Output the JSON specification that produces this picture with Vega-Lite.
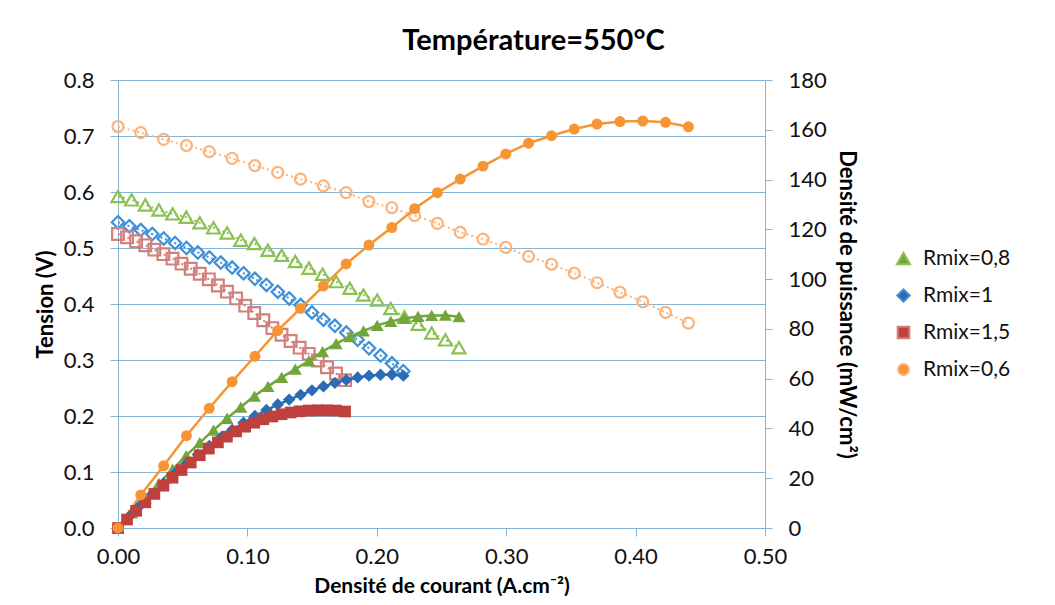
{
  "$schema": "https://vega.github.io/schema/vega-lite/v6.json",
  "width": 647,
  "height": 448,
  "autosize": "none",
  "padding": {"left": 118, "top": 80, "right": 290, "bottom": 77},
  "background": "white",
  "config": {"view": {"stroke": null}, "font": "Lato",
    "legend": {"title": null, "orient": "none", "legendX": 775, "legendY": 168, "labelFontSize": 21, "labelFont": "Lato", "labelColor": "#111", "rowPadding": 15, "labelOffset": 9, "symbolStrokeWidth": 2, "symbolOpacity": 1}},
  "title": {"text": "Température=550°C", "fontSize": 29, "fontWeight": "bold", "font": "Lato", "color": "#000", "anchor": "middle", "dx": 92, "offset": 13},
  "data": {"values": [
    {"s":"Rmix=0,8","j":0,"V":0.592,"P":0},
    {"s":"Rmix=0,8","j":0.0105,"V":0.586,"P":6.1},
    {"s":"Rmix=0,8","j":0.0211,"V":0.577,"P":12.1},
    {"s":"Rmix=0,8","j":0.0316,"V":0.568,"P":17.9},
    {"s":"Rmix=0,8","j":0.0422,"V":0.561,"P":23.6},
    {"s":"Rmix=0,8","j":0.0527,"V":0.555,"P":29.1},
    {"s":"Rmix=0,8","j":0.0632,"V":0.545,"P":34.3},
    {"s":"Rmix=0,8","j":0.0738,"V":0.536,"P":39.3},
    {"s":"Rmix=0,8","j":0.0843,"V":0.527,"P":44.1},
    {"s":"Rmix=0,8","j":0.0949,"V":0.514,"P":48.6},
    {"s":"Rmix=0,8","j":0.1054,"V":0.508,"P":53.0},
    {"s":"Rmix=0,8","j":0.1159,"V":0.496,"P":56.9},
    {"s":"Rmix=0,8","j":0.1265,"V":0.487,"P":60.5},
    {"s":"Rmix=0,8","j":0.1370,"V":0.476,"P":63.8},
    {"s":"Rmix=0,8","j":0.1476,"V":0.464,"P":67.2},
    {"s":"Rmix=0,8","j":0.1581,"V":0.453,"P":70.9},
    {"s":"Rmix=0,8","j":0.1686,"V":0.440,"P":74.1},
    {"s":"Rmix=0,8","j":0.1792,"V":0.428,"P":76.9},
    {"s":"Rmix=0,8","j":0.1897,"V":0.416,"P":79.2},
    {"s":"Rmix=0,8","j":0.2003,"V":0.407,"P":81.4},
    {"s":"Rmix=0,8","j":0.2108,"V":0.392,"P":83.0},
    {"s":"Rmix=0,8","j":0.2213,"V":0.377,"P":84.2},
    {"s":"Rmix=0,8","j":0.2319,"V":0.364,"P":85.0},
    {"s":"Rmix=0,8","j":0.2424,"V":0.348,"P":85.4},
    {"s":"Rmix=0,8","j":0.2530,"V":0.336,"P":85.5},
    {"s":"Rmix=0,8","j":0.2635,"V":0.322,"P":84.9},
    {"s":"Rmix=1","j":0,"V":0.546,"P":0},
    {"s":"Rmix=1","j":0.0088,"V":0.539,"P":4.7},
    {"s":"Rmix=1","j":0.0176,"V":0.532,"P":9.3},
    {"s":"Rmix=1","j":0.0265,"V":0.525,"P":13.7},
    {"s":"Rmix=1","j":0.0353,"V":0.517,"P":17.9},
    {"s":"Rmix=1","j":0.0441,"V":0.509,"P":21.9},
    {"s":"Rmix=1","j":0.0529,"V":0.500,"P":25.8},
    {"s":"Rmix=1","j":0.0617,"V":0.492,"P":29.5},
    {"s":"Rmix=1","j":0.0706,"V":0.483,"P":33.0},
    {"s":"Rmix=1","j":0.0794,"V":0.474,"P":36.3},
    {"s":"Rmix=1","j":0.0882,"V":0.465,"P":39.4},
    {"s":"Rmix=1","j":0.0970,"V":0.455,"P":42.3},
    {"s":"Rmix=1","j":0.1058,"V":0.445,"P":45.0},
    {"s":"Rmix=1","j":0.1147,"V":0.434,"P":47.4},
    {"s":"Rmix=1","j":0.1235,"V":0.422,"P":49.6},
    {"s":"Rmix=1","j":0.1323,"V":0.410,"P":51.6},
    {"s":"Rmix=1","j":0.1411,"V":0.398,"P":53.5},
    {"s":"Rmix=1","j":0.1499,"V":0.385,"P":55.3},
    {"s":"Rmix=1","j":0.1588,"V":0.372,"P":56.9},
    {"s":"Rmix=1","j":0.1676,"V":0.361,"P":58.3},
    {"s":"Rmix=1","j":0.1764,"V":0.349,"P":59.5},
    {"s":"Rmix=1","j":0.1852,"V":0.336,"P":60.5},
    {"s":"Rmix=1","j":0.1940,"V":0.321,"P":61.2},
    {"s":"Rmix=1","j":0.2029,"V":0.308,"P":61.6},
    {"s":"Rmix=1","j":0.2117,"V":0.294,"P":61.7},
    {"s":"Rmix=1","j":0.2205,"V":0.280,"P":61.2},
    {"s":"Rmix=1,5","j":0,"V":0.525,"P":0},
    {"s":"Rmix=1,5","j":0.0070,"V":0.519,"P":3.4},
    {"s":"Rmix=1,5","j":0.0140,"V":0.512,"P":6.9},
    {"s":"Rmix=1,5","j":0.0211,"V":0.505,"P":10.3},
    {"s":"Rmix=1,5","j":0.0281,"V":0.497,"P":13.7},
    {"s":"Rmix=1,5","j":0.0351,"V":0.489,"P":17.0},
    {"s":"Rmix=1,5","j":0.0421,"V":0.481,"P":20.2},
    {"s":"Rmix=1,5","j":0.0491,"V":0.472,"P":23.3},
    {"s":"Rmix=1,5","j":0.0562,"V":0.463,"P":26.3},
    {"s":"Rmix=1,5","j":0.0632,"V":0.454,"P":29.2},
    {"s":"Rmix=1,5","j":0.0702,"V":0.444,"P":31.9},
    {"s":"Rmix=1,5","j":0.0772,"V":0.433,"P":34.4},
    {"s":"Rmix=1,5","j":0.0842,"V":0.422,"P":36.7},
    {"s":"Rmix=1,5","j":0.0913,"V":0.410,"P":38.8},
    {"s":"Rmix=1,5","j":0.0983,"V":0.397,"P":40.7},
    {"s":"Rmix=1,5","j":0.1053,"V":0.384,"P":42.3},
    {"s":"Rmix=1,5","j":0.1123,"V":0.371,"P":43.7},
    {"s":"Rmix=1,5","j":0.1193,"V":0.357,"P":44.8},
    {"s":"Rmix=1,5","j":0.1264,"V":0.345,"P":45.7},
    {"s":"Rmix=1,5","j":0.1334,"V":0.334,"P":46.4},
    {"s":"Rmix=1,5","j":0.1404,"V":0.322,"P":46.9},
    {"s":"Rmix=1,5","j":0.1474,"V":0.311,"P":47.2},
    {"s":"Rmix=1,5","j":0.1544,"V":0.299,"P":47.3},
    {"s":"Rmix=1,5","j":0.1615,"V":0.287,"P":47.3},
    {"s":"Rmix=1,5","j":0.1685,"V":0.276,"P":47.2},
    {"s":"Rmix=1,5","j":0.1755,"V":0.264,"P":46.8},
    {"s":"Rmix=0,6","j":0,"V":0.717,"P":0},
    {"s":"Rmix=0,6","j":0.0176,"V":0.706,"P":13.3},
    {"s":"Rmix=0,6","j":0.0353,"V":0.694,"P":25.0},
    {"s":"Rmix=0,6","j":0.0529,"V":0.683,"P":37.1},
    {"s":"Rmix=0,6","j":0.0705,"V":0.672,"P":48.1},
    {"s":"Rmix=0,6","j":0.0882,"V":0.660,"P":58.8},
    {"s":"Rmix=0,6","j":0.1058,"V":0.647,"P":69.0},
    {"s":"Rmix=0,6","j":0.1234,"V":0.635,"P":79.3},
    {"s":"Rmix=0,6","j":0.1410,"V":0.623,"P":88.2},
    {"s":"Rmix=0,6","j":0.1587,"V":0.611,"P":97.2},
    {"s":"Rmix=0,6","j":0.1763,"V":0.599,"P":106.1},
    {"s":"Rmix=0,6","j":0.1939,"V":0.583,"P":113.7},
    {"s":"Rmix=0,6","j":0.2116,"V":0.572,"P":120.7},
    {"s":"Rmix=0,6","j":0.2292,"V":0.558,"P":128.3},
    {"s":"Rmix=0,6","j":0.2468,"V":0.544,"P":134.7},
    {"s":"Rmix=0,6","j":0.2645,"V":0.528,"P":140.2},
    {"s":"Rmix=0,6","j":0.2821,"V":0.516,"P":145.4},
    {"s":"Rmix=0,6","j":0.2997,"V":0.501,"P":150.3},
    {"s":"Rmix=0,6","j":0.3173,"V":0.485,"P":154.6},
    {"s":"Rmix=0,6","j":0.3350,"V":0.471,"P":157.6},
    {"s":"Rmix=0,6","j":0.3526,"V":0.455,"P":160.3},
    {"s":"Rmix=0,6","j":0.3702,"V":0.438,"P":162.3},
    {"s":"Rmix=0,6","j":0.3879,"V":0.421,"P":163.3},
    {"s":"Rmix=0,6","j":0.4055,"V":0.404,"P":163.5},
    {"s":"Rmix=0,6","j":0.4231,"V":0.385,"P":163.0},
    {"s":"Rmix=0,6","j":0.4408,"V":0.366,"P":161.2}
  ]},
  "encoding": {
    "x": {"field": "j", "type": "quantitative",
      "scale": {"domain": [0, 0.5], "nice": false},
      "axis": {"title": "Densité de courant (A.cm⁻²)", "values": [0, 0.1, 0.2, 0.3, 0.4, 0.5], "format": ".2f", "grid": false, "labelFlush": false,
        "domainColor": "#86B4D6", "tickColor": "#86B4D6", "tickSize": 8, "labelFontSize": 22, "labelColor": "#111", "labelPadding": 10,
        "titleFontSize": 21, "titleFontWeight": "bold", "titleColor": "#000", "titlePadding": 8}},
    "shape": {"field": "s", "type": "nominal",
      "scale": {"domain": ["Rmix=0,8", "Rmix=1", "Rmix=1,5", "Rmix=0,6"], "range": ["triangle-up", "diamond", "square", "circle"]},
      "legend": {}},
    "size": {"field": "s", "type": "nominal",
      "scale": {"domain": ["Rmix=0,8", "Rmix=1", "Rmix=1,5", "Rmix=0,6"], "range": [170, 120, 90, 130]},
      "legend": {}}
  },
  "layer": [
    {
      "encoding": {
        "y": {"field": "V", "type": "quantitative",
          "scale": {"domain": [0, 0.8], "nice": false},
          "axis": {"orient": "left", "title": "Tension (V)", "values": [0, 0.1, 0.2, 0.3, 0.4, 0.5, 0.6, 0.7, 0.8], "format": ".1f",
            "grid": true, "gridColor": "#86B4D6", "gridWidth": 1, "domainColor": "#86B4D6", "tickColor": "#86B4D6", "tickSize": 8,
            "labelFontSize": 22, "labelColor": "#111", "labelPadding": 16,
            "titleFontSize": 22, "titleFontWeight": "bold", "titleColor": "#000", "titlePadding": 6}},
        "stroke": {"field": "s", "type": "nominal",
          "scale": {"domain": ["Rmix=0,8", "Rmix=1", "Rmix=1,5", "Rmix=0,6"], "range": ["#8CC152", "#3C8FD9", "#D1807B", "#FBB37A"]},
          "legend": {}}
      },
      "layer": [
        {"mark": {"type": "line", "strokeWidth": 2, "strokeDash": [2, 3]}, "encoding": {"shape": null, "size": null}},
        {"mark": {"type": "point", "filled": false, "strokeWidth": 2.2, "opacity": 1}}
      ]
    },
    {
      "encoding": {
        "y": {"field": "P", "type": "quantitative",
          "scale": {"domain": [0, 180], "nice": false},
          "axis": {"orient": "right", "title": "Densité de puissance (mW/cm²)", "values": [0, 20, 40, 60, 80, 100, 120, 140, 160, 180],
            "grid": false, "domainColor": "#86B4D6", "tickColor": "#86B4D6", "tickSize": 7,
            "labelFontSize": 22, "labelColor": "#111", "labelPadding": 16,
            "titleFontSize": 22, "titleFontWeight": "bold", "titleColor": "#000", "titlePadding": 8}},
        "color": {"field": "s", "type": "nominal",
          "scale": {"domain": ["Rmix=0,8", "Rmix=1", "Rmix=1,5", "Rmix=0,6"], "range": ["#72A53A", "#2B6CB3", "#C0403D", "#F79433"]},
          "legend": {}}
      },
      "layer": [
        {"mark": {"type": "line", "strokeWidth": 2.5}, "encoding": {"shape": null, "size": null}},
        {"mark": {"type": "point", "filled": true, "opacity": 1}}
      ]
    }
  ],
  "resolve": {"scale": {"y": "independent"}}
}
